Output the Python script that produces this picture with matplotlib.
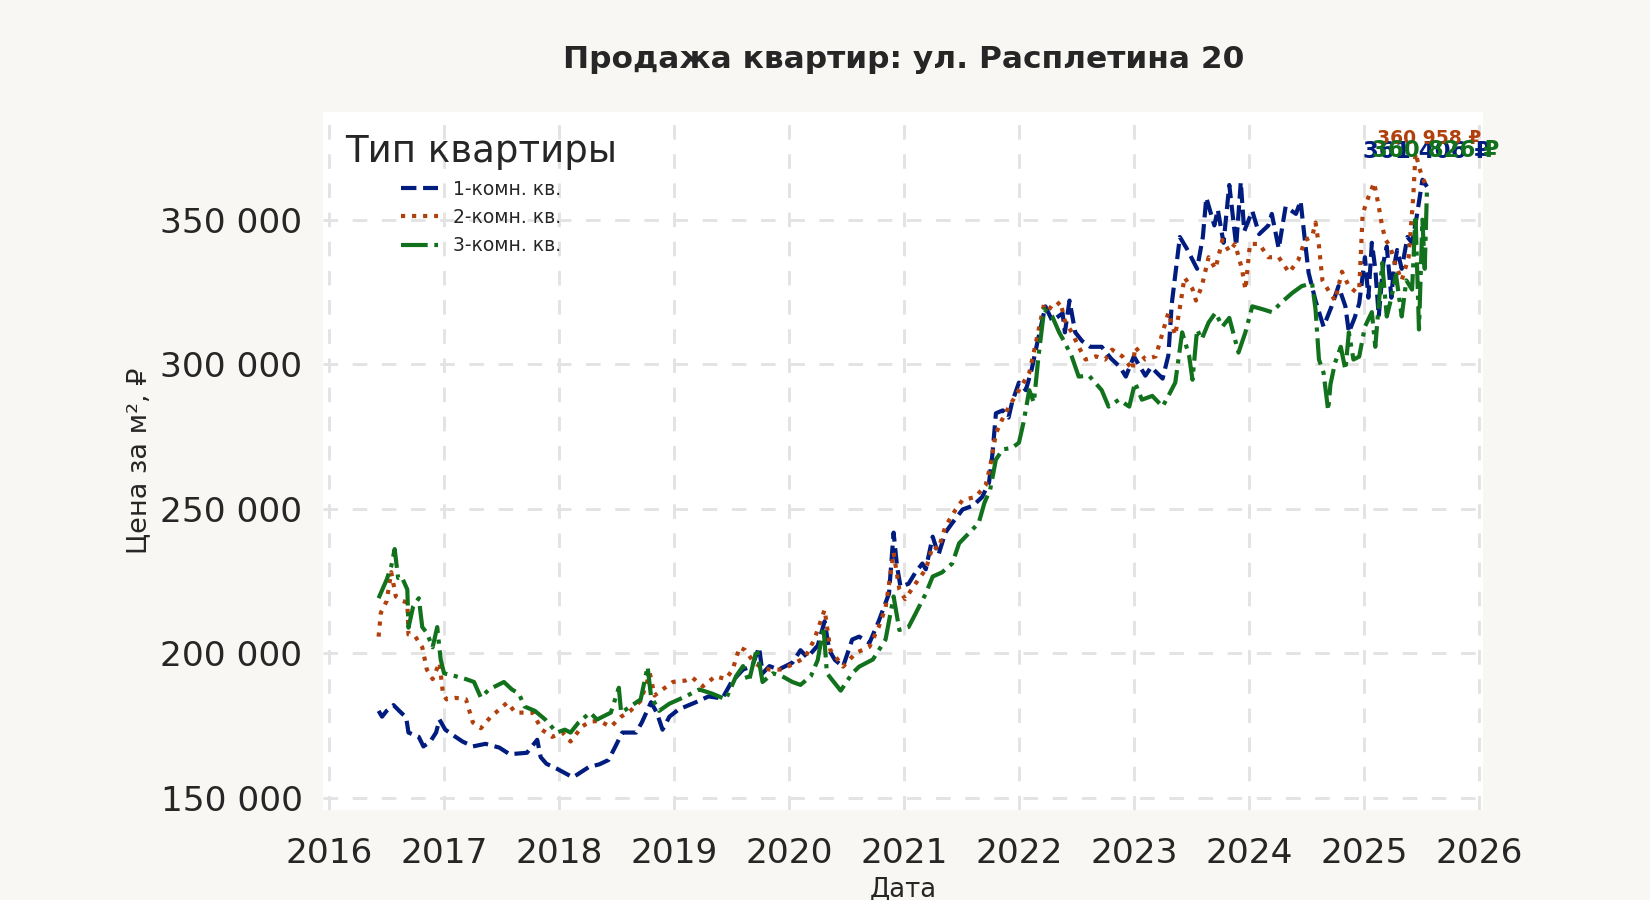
import matplotlib
matplotlib.use("Agg")
import matplotlib.pyplot as plt
from matplotlib.ticker import FuncFormatter, MultipleLocator

# 1-комн. кв. (decimal year, price per m2)
x1 = [2016.43, 2016.46, 2016.50, 2016.56, 2016.61, 2016.67, 2016.69, 2016.78, 2016.82, 2016.88,
      2016.93, 2016.96, 2017.01, 2017.10, 2017.16, 2017.25, 2017.36, 2017.48, 2017.57, 2017.72,
      2017.81, 2017.84, 2017.89, 2017.98, 2018.05, 2018.12, 2018.16, 2018.26, 2018.35, 2018.43,
      2018.49, 2018.55, 2018.67, 2018.72, 2018.80, 2018.85, 2018.90, 2018.96, 2019.04, 2019.19,
      2019.30, 2019.42, 2019.50, 2019.60, 2019.68, 2019.74, 2019.77, 2019.83, 2019.91, 2020.03,
      2020.10, 2020.16, 2020.25, 2020.31, 2020.35, 2020.40, 2020.47, 2020.55, 2020.61, 2020.70,
      2020.78, 2020.87, 2020.91, 2020.94, 2020.97, 2021.04, 2021.10, 2021.16, 2021.19, 2021.25,
      2021.30, 2021.36, 2021.42, 2021.51, 2021.60, 2021.68, 2021.74, 2021.77, 2021.80, 2021.86,
      2021.91, 2021.94, 2022.00, 2022.06, 2022.11, 2022.16, 2022.23, 2022.29, 2022.38, 2022.40,
      2022.44, 2022.49, 2022.55, 2022.62, 2022.72, 2022.80, 2022.88, 2022.93, 2023.00, 2023.10,
      2023.15, 2023.25, 2023.30, 2023.33, 2023.40, 2023.46, 2023.55, 2023.60, 2023.63, 2023.70,
      2023.73, 2023.78, 2023.83, 2023.89, 2023.93, 2023.96, 2024.03, 2024.09, 2024.17, 2024.20,
      2024.26, 2024.32, 2024.41, 2024.45, 2024.49, 2024.52, 2024.58, 2024.65, 2024.72, 2024.78,
      2024.84, 2024.87, 2024.92, 2024.96, 2025.01, 2025.04, 2025.07, 2025.10, 2025.13, 2025.17,
      2025.20, 2025.24, 2025.26, 2025.29, 2025.33, 2025.38, 2025.42, 2025.46, 2025.51, 2025.55]
y1 = [180000, 178000, 180000, 182000, 180000, 177700, 172500, 171000, 167700, 169400,
      172500, 177000, 173500, 171000, 169400, 167700, 168600, 167300, 165000, 165500,
      170000, 164000, 161700, 160000, 158500, 157000, 158000, 160600, 161500, 163000,
      167700, 172500, 172500, 176000, 183000, 179400, 173500, 178000, 180500, 183000,
      185000, 184300, 190000, 194300, 195500, 202000, 193000, 195500, 194300, 196700,
      201000, 198500, 202600, 211000, 201000, 197600, 195300, 204700, 205700, 203500,
      211000, 220600, 241700, 230000, 223000, 224000, 227900, 231000, 229000, 240300,
      234000, 241700, 245000, 249700, 251000, 254000, 259000, 269000, 283000, 284000,
      281500, 286700, 293600, 291000, 298000, 307400, 320000, 315000, 317600, 311000,
      322000, 311000, 308000, 306000, 306000, 302000, 299000, 295700, 302700, 296000,
      299000, 295000, 303000, 321000, 344000, 340000, 333000, 344000, 357600, 348000,
      353500, 342000, 362000, 341000, 363000, 346000, 353000, 345000, 348000, 352000,
      340000, 354500, 352000, 356500, 342000, 331600, 322000, 313000, 320000, 327000,
      320000, 311000, 316000, 321000, 337000, 323000, 342000, 333000, 316500, 335000,
      340700, 323000, 333000, 339500, 333000, 344000, 342000, 351000, 363800, 361406]

# 2-комн. кв.
x2 = [2016.43, 2016.45, 2016.50, 2016.54, 2016.58, 2016.64, 2016.68, 2016.69, 2016.75, 2016.81,
      2016.85, 2016.90, 2016.96, 2016.99, 2017.02, 2017.10, 2017.19, 2017.25, 2017.32, 2017.40,
      2017.55, 2017.62, 2017.77, 2017.85, 2017.94, 2018.03, 2018.10, 2018.20, 2018.27, 2018.35,
      2018.45, 2018.54, 2018.62, 2018.71, 2018.79, 2018.83, 2018.90, 2018.99, 2019.10, 2019.16,
      2019.25, 2019.36, 2019.45, 2019.51, 2019.57, 2019.62, 2019.68, 2019.74, 2019.83, 2019.94,
      2020.06, 2020.14, 2020.22, 2020.31, 2020.36, 2020.41, 2020.47, 2020.58, 2020.70, 2020.78,
      2020.84, 2020.91, 2020.96, 2021.01, 2021.10, 2021.19, 2021.25, 2021.30, 2021.36, 2021.45,
      2021.51, 2021.62, 2021.71, 2021.75, 2021.80, 2021.85, 2021.91, 2022.00, 2022.09, 2022.14,
      2022.22, 2022.29, 2022.36, 2022.40, 2022.46, 2022.52, 2022.58, 2022.67, 2022.75, 2022.81,
      2022.90, 2022.99, 2023.01, 2023.10, 2023.19, 2023.25, 2023.30, 2023.36, 2023.41, 2023.44,
      2023.51, 2023.54, 2023.59, 2023.65, 2023.71, 2023.77, 2023.83, 2023.88, 2023.94, 2023.97,
      2024.01, 2024.09, 2024.17, 2024.26, 2024.35, 2024.43, 2024.49, 2024.55, 2024.58, 2024.61,
      2024.64, 2024.70, 2024.75, 2024.81, 2024.87, 2024.93, 2024.96, 2024.99, 2025.04, 2025.09,
      2025.13, 2025.16, 2025.19, 2025.23, 2025.27, 2025.33, 2025.39, 2025.43, 2025.45, 2025.49,
      2025.52, 2025.55]
y2 = [205700, 214000, 218000, 228000, 219600, 218000, 217500, 206400, 205700, 202000,
      194300, 191000, 196700, 186000, 184000, 184500, 184000, 176000, 174000, 177700,
      182900, 179400, 179400, 173500, 171000, 172500, 169400, 174600, 176300, 176500,
      174500, 178000, 180000, 183500, 193000, 185300, 187400, 190000, 190500, 191500,
      188500, 192000, 191000, 194300, 202000, 201000, 197600, 195500, 194300, 194300,
      196700, 198500, 204700, 215000, 201000, 198500, 195300, 200000, 202200, 209000,
      215700, 234800, 222000, 218700, 224000, 229000, 237000, 236000, 243800, 249700,
      253000, 254000, 258000, 264600, 276000, 280500, 285000, 291000, 297000, 306000,
      321000, 319000, 321600, 315000, 311000, 306000, 301600, 302700, 301600, 305000,
      302700, 298000, 306000, 301600, 302700, 311000, 317800, 310000, 322000, 330000,
      326000, 322000, 326800, 337000, 333000, 343000, 339000, 341600, 333000, 325800,
      341600, 341600, 337000, 337000, 331700, 336000, 343000, 344000, 349000, 341000,
      329000, 325000, 322000, 332000, 327000, 325000, 325800, 352000, 357800, 362800,
      354600, 347600, 343000, 340700, 335000, 329000, 337000, 357800, 373000, 367000,
      363800, 360958]

# 3-комн. кв.
x3 = [2016.43, 2016.50, 2016.54, 2016.57, 2016.60, 2016.63, 2016.68, 2016.69, 2016.73, 2016.78,
      2016.81, 2016.85, 2016.90, 2016.94, 2016.97, 2017.00, 2017.10, 2017.19, 2017.26, 2017.32,
      2017.39, 2017.52, 2017.59, 2017.65, 2017.70, 2017.79, 2017.88, 2017.98, 2018.05, 2018.10,
      2018.17, 2018.27, 2018.33, 2018.45, 2018.52, 2018.54, 2018.62, 2018.71, 2018.77, 2018.80,
      2018.87, 2018.96, 2019.10, 2019.22, 2019.33, 2019.45, 2019.54, 2019.60, 2019.65, 2019.72,
      2019.77, 2019.86, 2019.94, 2020.03, 2020.10, 2020.19, 2020.25, 2020.30, 2020.33, 2020.39,
      2020.45, 2020.55, 2020.61, 2020.73, 2020.84, 2020.91, 2020.96, 2021.04, 2021.10, 2021.19,
      2021.25, 2021.33, 2021.42, 2021.48, 2021.57, 2021.65, 2021.70, 2021.75, 2021.80, 2021.86,
      2021.94, 2022.00, 2022.04, 2022.09, 2022.13, 2022.17, 2022.22, 2022.29, 2022.35, 2022.40,
      2022.46, 2022.52, 2022.61, 2022.72, 2022.78, 2022.87, 2022.96, 2023.01, 2023.07, 2023.16,
      2023.25, 2023.30, 2023.36, 2023.42, 2023.48, 2023.51, 2023.55, 2023.59, 2023.65, 2023.71,
      2023.77, 2023.83, 2023.91, 2023.97, 2024.03, 2024.12, 2024.20, 2024.29, 2024.38, 2024.46,
      2024.55, 2024.58, 2024.61, 2024.65, 2024.69, 2024.71, 2024.75, 2024.80, 2024.84, 2024.87,
      2024.91, 2024.96, 2025.01, 2025.07, 2025.10, 2025.16, 2025.20, 2025.24, 2025.28, 2025.33,
      2025.37, 2025.42, 2025.45, 2025.48, 2025.51, 2025.53, 2025.55]
y3 = [219000, 225400, 230000, 236000, 226000, 226500, 222000, 208800, 216000, 219000,
      209000, 207000, 202000, 209000, 197800, 193000, 192000, 191000, 190000, 184600,
      187400, 190000, 187400, 186000, 181500, 180000, 177000, 172500, 173500, 172500,
      176000, 179400, 177000, 179400, 188000, 179400, 181500, 184000, 195300, 185000,
      180000, 182500, 185000, 187400, 186000, 184000, 192000, 195500, 190000, 201600,
      190000, 193000, 192000, 190000, 189000, 192000, 197600, 209000, 193000, 190000,
      187000, 193000, 195300, 197800, 204700, 219600, 208000, 209000, 213600, 220600,
      226500, 227900, 231000, 238000, 241700, 245000, 252000, 256600, 267000, 270500,
      271000, 272800, 279800, 291000, 286700, 302600, 319000, 316500, 311000, 307400,
      302600, 295700, 296000, 291000, 285300, 287700, 285300, 293600, 287700, 289000,
      285300, 289000, 293600, 311000, 303000, 294600, 312000, 308600, 314400, 317800,
      313000, 316000, 304000, 311000, 320000, 319000, 318000, 321600, 324700, 327000,
      328000, 319000, 301600, 297000, 284000, 293000, 300500, 306000, 298000, 311000,
      301600, 302600, 313000, 318000, 306000, 335000, 316500, 323000, 331000, 316500,
      329000, 325800, 351500, 312000, 350000, 333000, 360826]

labels = ["1-комн. кв.", "2-комн. кв.", "3-комн. кв."]
colors = ["#001c7f", "#b1400d", "#12711c"]
styles = ["--", ":", "-."]

plt.rcParams["font.family"] = ["DejaVu Sans"]
text_col = "#262626"

fig = plt.figure(figsize=(11, 6), dpi=150, facecolor="#f8f7f3")
ax = fig.add_axes([0.196, 0.1, 0.703, 0.776])
ax.set_facecolor("white")

series = [(x1, y1), (x2, y2), (x3, y3)]
for (xs, ys), lab, c, ls in zip(series, labels, colors, styles):
    ax.plot(xs, ys, ls, color=c, lw=2, label=lab)

# end-point labels (they overlap in the original too)
fmt = lambda v: f"{v:,.0f}".replace(",", " ") + " ₽"
ends = [(x1[-1], y1[-1], 0, 14, 11), (x2[-1], y2[-1], 1, 21, 9), (x3[-1], y3[-1], 4, 15, 11)]
for (ex, ey, dx, dy, fs), c in zip(ends, colors):
    ax.annotate(fmt(ey), (ex, ey), xytext=(dx, dy), textcoords="offset points",
                ha="center", va="baseline", fontsize=fs, fontweight="bold", color=c)

ax.xaxis.set_major_locator(MultipleLocator(1))
ax.xaxis.set_major_formatter(FuncFormatter(lambda v, p: f"{int(round(v))}"))
ax.yaxis.set_major_locator(MultipleLocator(50000))
ax.yaxis.set_major_formatter(FuncFormatter(lambda v, p: f"{v:,.0f}".replace(",", " ")))
ax.tick_params(labelsize=16.5, length=0, colors=text_col)
ax.tick_params(axis="x", pad=13)
ax.tick_params(axis="y", pad=10)
ax.set_xlim(2015.95, 2026.04)
ax.set_ylim(145700, 387400)

ax.grid(True, ls=(0, (5, 5)), color="#e3e3e3", lw=1.4)
for s in ax.spines.values():
    s.set_visible(False)

ax.set_title("Продажа квартир: ул. Расплетина 20", fontsize=15, fontweight="bold",
             color=text_col, pad=21)
ax.set_xlabel("Дата", fontsize=12.5, color=text_col, labelpad=3)
ax.set_ylabel("Цена за м², ₽", fontsize=13, color=text_col, labelpad=4)

leg = ax.legend(title="Тип квартиры", loc="upper left", fontsize=9, title_fontsize=17.8,
                frameon=False, borderaxespad=0.75)
leg.get_title().set_color(text_col)
for t in leg.get_texts():
    t.set_color(text_col)

fig.savefig("out.png", dpi=150, facecolor=fig.get_facecolor())
